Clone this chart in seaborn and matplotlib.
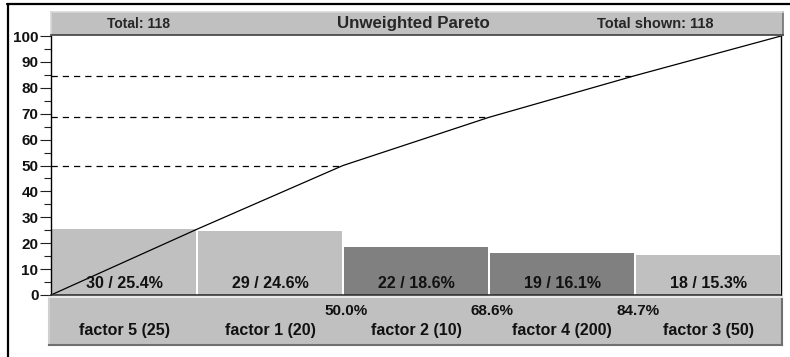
import numpy as np
import pandas as pd
import matplotlib
matplotlib.use("Agg")
import matplotlib.pyplot as plt
from matplotlib.lines import Line2D
from matplotlib.ticker import MultipleLocator
import seaborn as sns

# Pareto data
factors = ["factor 5 (25)", "factor 1 (20)", "factor 2 (10)", "factor 4 (200)", "factor 3 (50)"]
counts = [30, 29, 22, 19, 18]
percents = [25.4, 24.6, 18.6, 16.1, 15.3]
cumulative = [25.4, 50.0, 68.6, 84.7, 100.0]
bar_colors = ["#c0c0c0", "#c0c0c0", "#808080", "#808080", "#c0c0c0"]
total = 118
total_shown = 118
y_ticks = [0, 10, 20, 30, 40, 50, 60, 70, 80, 90, 100]

sns.set_style("white")
plt.rcParams["font.family"] = ["Liberation Sans Narrow", "Liberation Sans", "DejaVu Sans"]
plt.rcParams["font.weight"] = "bold"

W, H = 790, 357
fig = plt.figure(figsize=(W / 100, H / 100), dpi=100)
fig.patch.set_facecolor("white")


def fx(px):
    return px / W


def fy(py):
    return 1 - py / H


# main plotting area
ax = fig.add_axes([fx(51), fy(295), fx(781 - 51), (295 - 36) / H])
df = pd.DataFrame({"factor": factors, "percent": percents})
sns.barplot(data=df, x="factor", y="percent", hue="factor", palette=bar_colors,
            legend=False, width=0.988, saturation=1, edgecolor="none", ax=ax)

# value labels inside bars
for i, (c, p) in enumerate(zip(counts, percents)):
    ax.text(i, 4.6, f"{c} / {p:.1f}%", ha="center", va="center",
            fontsize=11.5, fontweight="bold", color="#111111")

# cumulative line
edges = np.arange(len(factors) + 1) - 0.5
cum_df = pd.DataFrame({"x": edges, "y": [0.0] + cumulative})
sns.lineplot(data=cum_df, x="x", y="y", color="black", linewidth=0.9, ax=ax)

# dashed reference lines at intermediate cumulative points
for xe, cv in zip(edges[2:-1], cumulative[1:-1]):
    ax.plot([-0.5, xe], [cv, cv], color="black", linewidth=0.9,
            linestyle=(0, (5, 4)))

ax.set_xlim(-0.5, len(factors) - 0.5)
ax.set_ylim(0, 100)
ax.set_xlabel("")
ax.set_ylabel("")
ax.set_xticks([])
ax.yaxis.set_minor_locator(MultipleLocator(5))
ax.set_yticks(y_ticks)
ax.set_yticklabels([str(t) for t in y_ticks], fontsize=11, fontweight="bold")
ax.tick_params(axis="y", which="major", direction="out", length=8, width=0.8,
               color="#202020", pad=1, left=True, labelcolor="#111111")
ax.tick_params(axis="y", which="minor", direction="out", length=5, width=0.8,
               color="#202020", left=True)
for s in ["left", "right"]:
    ax.spines[s].set_color("black")
    ax.spines[s].set_linewidth(1.0)
ax.spines["bottom"].set_color("#303030")
ax.spines["bottom"].set_linewidth(1.2)
ax.spines["top"].set_visible(False)
ax.set_facecolor("white")

# header band
axh = fig.add_axes([fx(51), fy(35), fx(783 - 51), 23 / H])
axh.set_facecolor("#c0c0c0")
axh.set_xticks([])
axh.set_yticks([])
axh.spines["bottom"].set_color("#404040")
axh.spines["right"].set_color("#707070")
axh.spines["top"].set_color("#d8d8d8")
axh.spines["left"].set_color("#d8d8d8")
for s in axh.spines.values():
    s.set_linewidth(1.2)
axh.text(0.119, 0.5, f"Total: {total}", ha="center", va="center",
         fontsize=10, fontweight="bold", transform=axh.transAxes)
axh.text(0.495, 0.5, "Unweighted Pareto", ha="center", va="center",
         fontsize=12.2, fontweight="bold", transform=axh.transAxes)
axh.text(0.826, 0.5, f"Total shown: {total_shown}", ha="center", va="center",
         fontsize=10.5, fontweight="bold", transform=axh.transAxes)

# category band below the bars
axb = fig.add_axes([fx(49), fy(345), fx(782 - 49), 48 / H])
axb.set_facecolor("#c0c0c0")
axb.set_xlim(-0.5 - 2 / 146, len(factors) - 0.5 + 1 / 146)
axb.set_ylim(0, 1)
axb.set_xticks([])
axb.set_yticks([])
axb.spines["bottom"].set_color("#707070")
axb.spines["right"].set_color("#707070")
axb.spines["top"].set_color("#e8e8e8")
axb.spines["left"].set_color("#d0d0d0")
for s in axb.spines.values():
    s.set_linewidth(1.5)
for i, name in enumerate(factors):
    axb.text(i, 0.3, name, ha="center", va="center", fontsize=11.5,
             fontweight="bold", color="#111111")
for xe, cv in zip(edges[2:-1], cumulative[1:-1]):
    axb.text(xe + 0.02, 0.71, f"{cv:.1f}%", ha="center", va="center",
             fontsize=11, fontweight="bold", color="#111111")

# outer frame lines (top and left)
fig.add_artist(Line2D([fx(7), 1], [fy(4), fy(4)], color="black", linewidth=1.6,
                      transform=fig.transFigure))
fig.add_artist(Line2D([fx(8), fx(8)], [fy(4), 0], color="black", linewidth=1.6,
                      transform=fig.transFigure))

fig.savefig("out.png", dpi=100)
